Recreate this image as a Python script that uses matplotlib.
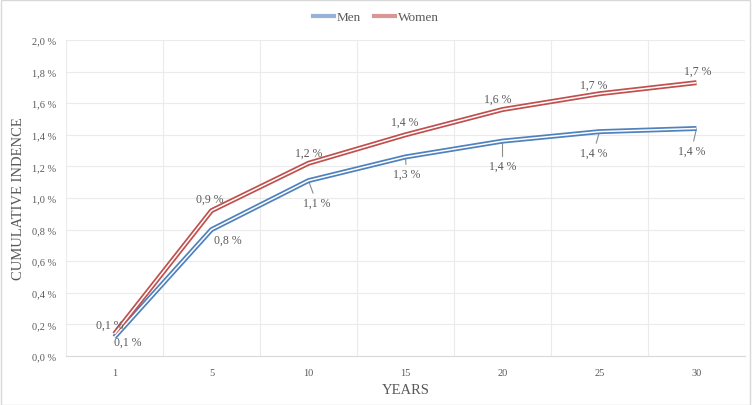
import matplotlib.pyplot as plt
from matplotlib.lines import Line2D
from matplotlib.patches import Rectangle

years = ["1", "5", "10", "15", "20", "25", "30"]
men = [0.12, 0.80, 1.11, 1.26, 1.36, 1.42, 1.44]
women = [0.14, 0.92, 1.22, 1.40, 1.56, 1.66, 1.73]

# label offsets in pixels (dx, dy) relative to each point
men_off = [(13, -5), (16, -10), (8, -22), (1, -17), (0, -25), (-6, -21), (-5, -22)]
women_off = [(-5, 9), (-2, 12), (0, 11), (-1, 13), (-5, 11), (-6, 9), (1, 12)]
men_leader = [False, False, True, True, True, True, True]

blue = "#4F81BD"
red = "#C0504D"
txt = "#595959"
grid_c = "#EBEBEB"

plt.rcParams['font.family'] = ['Liberation Serif', 'DejaVu Serif']

fig = plt.figure(figsize=(7.52, 4.06), dpi=100)
ax = fig.add_axes([66 / 752, 49 / 406, 679 / 752, 316 / 406])

x = list(range(len(years)))


def draw(vals, color):
    ax.plot(x, vals, color=color, lw=3.6, solid_capstyle='butt', zorder=3)
    ax.plot(x, vals, color="white", lw=1.1, solid_capstyle='butt', zorder=4)


draw(men, blue)
draw(women, red)


def fmt(v):
    return f"{v:.1f} %".replace(".", ",")


for i, v in enumerate(men):
    dx, dy = men_off[i]
    props = None
    if men_leader[i]:
        props = dict(arrowstyle='-', color="#8C8C8C", lw=0.8, shrinkA=0.5, shrinkB=0)
    ax.annotate(fmt(v), (x[i], v), xytext=(dx, dy), textcoords='offset pixels',
                ha='center', va='center', fontsize=8.5, color=txt,
                arrowprops=props, zorder=2)

for i, v in enumerate(women):
    dx, dy = women_off[i]
    ax.annotate(fmt(v), (x[i], v), xytext=(dx, dy), textcoords='offset pixels',
                ha='center', va='center', fontsize=8.5, color=txt, zorder=5)

ax.set_xlim(-0.5, len(years) - 0.5)
ax.set_ylim(0, 2.0)
ax.set_xticks(x)
ax.set_xticklabels(years)
ax.set_xticks([i - 0.5 for i in range(len(years) + 1)], minor=True)
yt = [i * 0.2 for i in range(11)]
ax.set_yticks(yt)
ax.set_yticklabels([fmt(t) for t in yt])
ax.tick_params(axis='both', which='both', length=0, labelsize=7.5, colors=txt)
ax.tick_params(axis='x', pad=9)
ax.tick_params(axis='y', pad=7)
ax.grid(True, axis='y', which='major', color=grid_c, lw=0.8)
ax.grid(True, axis='x', which='minor', color=grid_c, lw=0.8)
ax.set_axisbelow(True)
for s in ['top', 'right', 'left']:
    ax.spines[s].set_visible(False)
ax.spines['bottom'].set_color("#D9D9D9")

ax.set_xlabel("YEARS", fontsize=10.5, color=txt, labelpad=4)
ax.set_ylabel("CUMULATIVE INDENCE", fontsize=10.5, color=txt, labelpad=5)

h1 = Line2D([], [], color=blue, lw=3.0, alpha=0.6)
h2 = Line2D([], [], color=red, lw=3.0, alpha=0.6)
leg = fig.legend([h1, h2], ["Men", "Women"], loc='center', bbox_to_anchor=(0.5, 1 - 18 / 406),
                 ncol=2, frameon=False, fontsize=9.5, handlelength=1.6, handletextpad=0.2,
                 columnspacing=1.0)
for t in leg.get_texts():
    t.set_color(txt)

fig.patches.append(Rectangle((0.001, 0.001), 0.997, 0.997, transform=fig.transFigure,
                             fill=False, edgecolor="#D9D9D9", lw=1))

fig.savefig("out.png", dpi=100)
